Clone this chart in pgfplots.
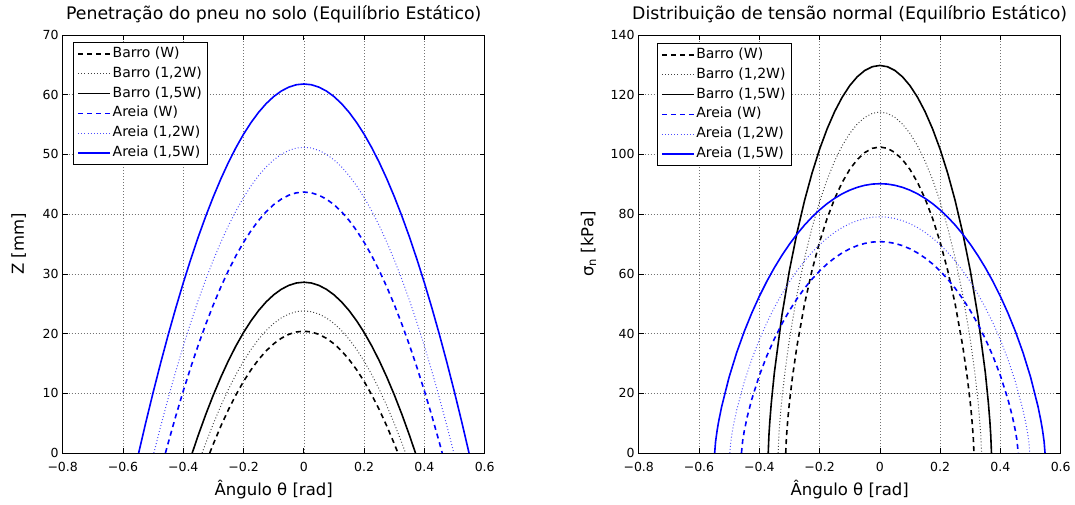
\documentclass[border=0pt]{standalone}
\usepackage{fontspec}
\setmainfont{DejaVu Sans}
\usepackage{pgfplots}
\pgfplotsset{compat=1.18}

% estilo comum aos dois graficos (aparencia do matlab)
\pgfplotsset{
  mlab/.style={
    scale only axis, width=422pt, height=418pt,
    xmin=-0.8, xmax=0.6,
    xtick={-0.8,-0.6,-0.4,-0.2,0,0.2,0.4,0.6},
    xticklabels={−0.8,−0.6,−0.4,−0.2,0,0.2,0.4,0.6},
    /pgf/number format/assume math mode=true,
    ticklabel style={font=\fontsize{12.5}{14}\selectfont},
    xticklabel style={anchor=base, yshift=-18pt, inner sep=0pt},
    yticklabel style={anchor=east, inner sep=0pt, xshift=-4pt},
    tick align=inside, xtick pos=both, ytick pos=both,
    major tick length=5pt,
    tick style={black, line width=0.7pt},
    axis line style={black, line width=1pt},
    grid=major,
    major grid style={black!55, line width=0.5pt, dash pattern=on 0.6pt off 2.4pt},
    no markers,
    label style={font=\fontsize{16.5}{18}\selectfont},
    title style={font=\fontsize{17.3}{19}\selectfont, at={(axis description cs:0.5,1)}, anchor=base, yshift=10pt},
    xlabel style={at={(axis description cs:0.5,0)}, anchor=base, yshift=-42pt},
    legend cell align=left,
    legend image code/.code={\draw[##1] (0pt,0pt) -- (32pt,0pt);},
    legend style={draw=black, fill=white,
      inner xsep=4pt, inner ysep=1.5pt,
      nodes={font=\fontsize{14}{16}\selectfont, inner xsep=1.6pt, inner ysep=0pt,
        text height=10.5pt, text depth=3.5pt, minimum height=19.8pt}},
  },
  bW/.style={black, line width=1.6pt, dash pattern=on 5pt off 4pt},
  b12/.style={black!75, line width=1pt, dash pattern=on 0.9pt off 2.2pt},
  b15/.style={black, line width=1.6pt},
  aW/.style={blue, line width=1.6pt, dash pattern=on 5pt off 4pt},
  a12/.style={blue!70, line width=1pt, dash pattern=on 0.9pt off 2.2pt},
  a15/.style={blue, line width=1.6pt},
}

\begin{document}
\begin{tikzpicture}
\path[use as bounding box] (-62.7pt,-51pt) rectangle (1012.3pt,453pt);

% ---------- penetracao ----------
\begin{axis}[mlab, at={(0pt,0pt)}, anchor=south west,
  ymin=0, ymax=70, ytick={0,10,...,70},
  title={Penetração do pneu no solo (Equilíbrio Estático)},
  xlabel={Ângulo θ [rad]}, ylabel={Z [mm]},
  ylabel style={at={(axis description cs:-0.104,0.5)}, anchor=center},
  legend style={at={(axis description cs:0,1)}, anchor=north west, xshift=10.6pt, yshift=-7.3pt}]

\addplot[bW] coordinates {(-0.3122,0) (-0.3,1.55) (-0.275,4.54) (-0.25,7.28) (-0.225,9.76) (-0.2,11.99) (-0.175,13.95) (-0.15,15.66) (-0.125,17.11) (-0.1,18.29) (-0.075,19.21) (-0.05,19.87) (-0.025,20.27) (0,20.40) (0.025,20.27) (0.05,19.87) (0.075,19.21) (0.1,18.29) (0.125,17.11) (0.15,15.66) (0.175,13.95) (0.2,11.99) (0.225,9.76) (0.25,7.28) (0.275,4.54) (0.3,1.55) (0.3122,0)};
\addlegendentry{Barro (W)}
\addplot[b12] coordinates {(-0.3375,0) (-0.325,1.71) (-0.3,4.95) (-0.275,7.94) (-0.25,10.68) (-0.225,13.16) (-0.2,15.39) (-0.175,17.35) (-0.15,19.06) (-0.125,20.51) (-0.1,21.69) (-0.075,22.61) (-0.05,23.27) (-0.025,23.67) (0,23.80) (0.025,23.67) (0.05,23.27) (0.075,22.61) (0.1,21.69) (0.125,20.51) (0.15,19.06) (0.175,17.35) (0.2,15.39) (0.225,13.16) (0.25,10.68) (0.275,7.94) (0.3,4.95) (0.325,1.71) (0.3375,0)};
\addlegendentry{Barro (1,2W)}
\addplot[b15] coordinates {(-0.3703,0) (-0.35,3.02) (-0.325,6.51) (-0.3,9.75) (-0.275,12.74) (-0.25,15.48) (-0.225,17.96) (-0.2,20.19) (-0.175,22.15) (-0.15,23.86) (-0.125,25.31) (-0.1,26.49) (-0.075,27.41) (-0.05,28.07) (-0.025,28.47) (0,28.60) (0.025,28.47) (0.05,28.07) (0.075,27.41) (0.1,26.49) (0.125,25.31) (0.15,23.86) (0.175,22.15) (0.2,20.19) (0.225,17.96) (0.25,15.48) (0.275,12.74) (0.3,9.75) (0.325,6.51) (0.35,3.02) (0.3703,0)};
\addlegendentry{Barro (1,5W)}
\addplot[aW] coordinates {(-0.4591,0) (-0.45,1.69) (-0.425,6.16) (-0.4,10.39) (-0.375,14.37) (-0.35,18.12) (-0.325,21.61) (-0.3,24.85) (-0.275,27.84) (-0.25,30.58) (-0.225,33.06) (-0.2,35.29) (-0.175,37.25) (-0.15,38.96) (-0.125,40.41) (-0.1,41.59) (-0.075,42.51) (-0.05,43.17) (-0.025,43.57) (0,43.70) (0.025,43.57) (0.05,43.17) (0.075,42.51) (0.1,41.59) (0.125,40.41) (0.15,38.96) (0.175,37.25) (0.2,35.29) (0.225,33.06) (0.25,30.58) (0.275,27.84) (0.3,24.85) (0.325,21.61) (0.35,18.12) (0.375,14.37) (0.4,10.39) (0.425,6.16) (0.45,1.69) (0.4591,0)};
\addlegendentry{Areia (W)}
\addplot[a12] coordinates {(-0.4977,0) (-0.475,4.48) (-0.45,9.19) (-0.425,13.66) (-0.4,17.89) (-0.375,21.87) (-0.35,25.62) (-0.325,29.11) (-0.3,32.35) (-0.275,35.34) (-0.25,38.08) (-0.225,40.56) (-0.2,42.79) (-0.175,44.75) (-0.15,46.46) (-0.125,47.91) (-0.1,49.09) (-0.075,50.01) (-0.05,50.67) (-0.025,51.07) (0,51.20) (0.025,51.07) (0.05,50.67) (0.075,50.01) (0.1,49.09) (0.125,47.91) (0.15,46.46) (0.175,44.75) (0.2,42.79) (0.225,40.56) (0.25,38.08) (0.275,35.34) (0.3,32.35) (0.325,29.11) (0.35,25.62) (0.375,21.87) (0.4,17.89) (0.425,13.66) (0.45,9.19) (0.475,4.48) (0.4977,0)};
\addlegendentry{Areia (1,2W)}
\addplot[a15] coordinates {(-0.548,0) (-0.525,4.97) (-0.5,10.14) (-0.475,15.08) (-0.45,19.79) (-0.425,24.26) (-0.4,28.49) (-0.375,32.47) (-0.35,36.22) (-0.325,39.71) (-0.3,42.95) (-0.275,45.94) (-0.25,48.68) (-0.225,51.16) (-0.2,53.39) (-0.175,55.35) (-0.15,57.06) (-0.125,58.51) (-0.1,59.69) (-0.075,60.61) (-0.05,61.27) (-0.025,61.67) (0,61.80) (0.025,61.67) (0.05,61.27) (0.075,60.61) (0.1,59.69) (0.125,58.51) (0.15,57.06) (0.175,55.35) (0.2,53.39) (0.225,51.16) (0.25,48.68) (0.275,45.94) (0.3,42.95) (0.325,39.71) (0.35,36.22) (0.375,32.47) (0.4,28.49) (0.425,24.26) (0.45,19.79) (0.475,15.08) (0.5,10.14) (0.525,4.97) (0.548,0)};
\addlegendentry{Areia (1,5W)}
\end{axis}

% ---------- tensao normal ----------
\begin{axis}[mlab, at={(576pt,0pt)}, anchor=south west,
  ymin=0, ymax=140, ytick={0,20,...,140},
  title={Distribuição de tensão normal (Equilíbrio Estático)},
  xlabel={Ângulo θ [rad]}, ylabel={σ\textsubscript{n} [kPa]},
  ylabel style={at={(axis description cs:-0.119,0.5)}, anchor=center},
  legend style={at={(axis description cs:0,1)}, anchor=north west, xshift=18.2pt, yshift=-8.3pt}]

\addplot[bW] coordinates {(-0.3122,0) (-0.31,5.15) (-0.305,11.74) (-0.3,16.87) (-0.29,25.39) (-0.275,35.80) (-0.25,49.83) (-0.225,61.18) (-0.2,70.66) (-0.175,78.56) (-0.15,85.18) (-0.125,90.63) (-0.1,94.96) (-0.075,98.28) (-0.05,100.63) (-0.025,102.04) (0,102.50) (0.025,102.04) (0.05,100.63) (0.075,98.28) (0.1,94.96) (0.125,90.63) (0.15,85.18) (0.175,78.56) (0.2,70.66) (0.225,61.18) (0.25,49.83) (0.275,35.80) (0.29,25.39) (0.3,16.87) (0.305,11.74) (0.31,5.15) (0.3122,0)};
\addlegendentry{Barro (W)}
\addplot[b12] coordinates {(-0.3375,0) (-0.335,5.85) (-0.33,12.68) (-0.325,18.07) (-0.315,27.02) (-0.3,38.06) (-0.275,52.97) (-0.25,65.18) (-0.225,75.44) (-0.2,84.16) (-0.175,91.55) (-0.15,97.76) (-0.125,102.90) (-0.1,107.02) (-0.075,110.18) (-0.05,112.42) (-0.025,113.76) (0,114.20) (0.025,113.76) (0.05,112.42) (0.075,110.18) (0.1,107.02) (0.125,102.90) (0.15,97.76) (0.175,91.55) (0.2,84.16) (0.225,75.44) (0.25,65.18) (0.275,52.97) (0.3,38.06) (0.315,27.02) (0.325,18.07) (0.33,12.68) (0.335,5.85) (0.3375,0)};
\addlegendentry{Barro (1,2W)}
\addplot[b15] coordinates {(-0.3703,0) (-0.368,5.91) (-0.365,10.62) (-0.36,16.86) (-0.35,26.87) (-0.325,46.05) (-0.3,61.12) (-0.275,73.71) (-0.25,84.47) (-0.225,93.73) (-0.2,101.72) (-0.175,108.55) (-0.15,114.34) (-0.125,119.15) (-0.1,123.03) (-0.075,126.01) (-0.05,128.12) (-0.025,129.38) (0,129.80) (0.025,129.38) (0.05,128.12) (0.075,126.01) (0.1,123.03) (0.125,119.15) (0.15,114.34) (0.175,108.55) (0.2,101.72) (0.225,93.73) (0.25,84.47) (0.275,73.71) (0.3,61.12) (0.325,46.05) (0.35,26.87) (0.36,16.86) (0.365,10.62) (0.368,5.91) (0.3703,0)};
\addlegendentry{Barro (1,5W)}
\addplot[aW] coordinates {(-0.4591,0) (-0.455,4.18) (-0.45,7.26) (-0.44,12.11) (-0.425,17.96) (-0.4,25.90) (-0.375,32.51) (-0.35,38.22) (-0.325,43.24) (-0.3,47.69) (-0.275,51.64) (-0.25,55.15) (-0.225,58.24) (-0.2,60.96) (-0.175,63.32) (-0.15,65.33) (-0.125,67.02) (-0.1,68.39) (-0.075,69.45) (-0.05,70.20) (-0.025,70.65) (0,70.80) (0.025,70.65) (0.05,70.20) (0.075,69.45) (0.1,68.39) (0.125,67.02) (0.15,65.33) (0.175,63.32) (0.2,60.96) (0.225,58.24) (0.25,55.15) (0.275,51.64) (0.3,47.69) (0.325,43.24) (0.35,38.22) (0.375,32.51) (0.4,25.90) (0.425,17.96) (0.44,12.11) (0.45,7.26) (0.455,4.18) (0.4591,0)};
\addlegendentry{Areia (W)}
\addplot[a12] coordinates {(-0.4977,0) (-0.495,3.30) (-0.49,6.82) (-0.485,9.64) (-0.475,14.38) (-0.45,23.77) (-0.425,31.37) (-0.4,37.89) (-0.375,43.62) (-0.35,48.71) (-0.325,53.27) (-0.3,57.36) (-0.275,61.02) (-0.25,64.30) (-0.225,67.20) (-0.2,69.76) (-0.175,71.99) (-0.15,73.90) (-0.125,75.50) (-0.1,76.81) (-0.075,77.81) (-0.05,78.53) (-0.025,78.96) (0,79.10) (0.025,78.96) (0.05,78.53) (0.075,77.81) (0.1,76.81) (0.125,75.50) (0.15,73.90) (0.175,71.99) (0.2,69.76) (0.225,67.20) (0.25,64.30) (0.275,61.02) (0.3,57.36) (0.325,53.27) (0.35,48.71) (0.375,43.62) (0.4,37.89) (0.425,31.37) (0.45,23.77) (0.475,14.38) (0.485,9.64) (0.49,6.82) (0.495,3.30) (0.4977,0)};
\addlegendentry{Areia (1,2W)}
\addplot[a15] coordinates {(-0.548,0) (-0.545,3.78) (-0.54,7.45) (-0.535,10.43) (-0.525,15.45) (-0.5,25.45) (-0.475,33.61) (-0.45,40.65) (-0.425,46.87) (-0.4,52.45) (-0.375,57.49) (-0.35,62.05) (-0.325,66.18) (-0.3,69.92) (-0.275,73.29) (-0.25,76.33) (-0.225,79.03) (-0.2,81.42) (-0.175,83.51) (-0.15,85.30) (-0.125,86.81) (-0.1,88.03) (-0.075,88.98) (-0.05,89.66) (-0.025,90.07) (0,90.20) (0.025,90.07) (0.05,89.66) (0.075,88.98) (0.1,88.03) (0.125,86.81) (0.15,85.30) (0.175,83.51) (0.2,81.42) (0.225,79.03) (0.25,76.33) (0.275,73.29) (0.3,69.92) (0.325,66.18) (0.35,62.05) (0.375,57.49) (0.4,52.45) (0.425,46.87) (0.45,40.65) (0.475,33.61) (0.5,25.45) (0.525,15.45) (0.535,10.43) (0.54,7.45) (0.545,3.78) (0.548,0)};
\addlegendentry{Areia (1,5W)}
\end{axis}
\end{tikzpicture}
\end{document}
